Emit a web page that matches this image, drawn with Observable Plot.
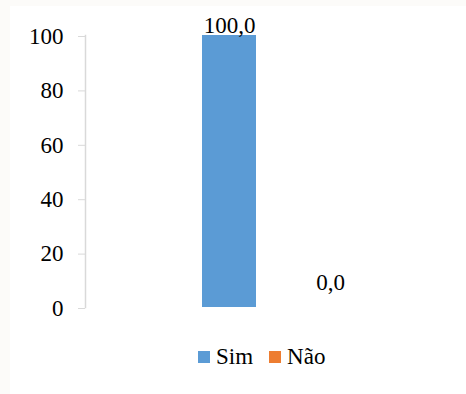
<!DOCTYPE html>
<html>
<head>
<meta charset="utf-8">
<script src="https://cdn.jsdelivr.net/npm/d3@7"></script>
<script src="https://cdn.jsdelivr.net/npm/@observablehq/plot@0.6"></script>
<style>
  html, body { margin: 0; padding: 0; background: #fcfbf9; width: 466px; height: 394px; overflow: hidden; }
  #chart { position: absolute; left: 10px; top: 6px; width: 456px; height: 388px; background: #ffffff; }
  .legend { position: absolute; left: 188px; top: 338px; display: flex; align-items: center;
            font-family: "Liberation Serif", Tinos, "Times New Roman", Times, serif; font-size: 23px; color: #000; }
  .legend .sw { width: 12px; height: 12px; display: inline-block; margin-right: 6px; }
  .legend .item { display: flex; align-items: center; margin-right: 16px; }
  #chart svg, #chart svg text { font-family: "Liberation Serif", Tinos, "Times New Roman", Times, serif !important; }
</style>
</head>
<body>
<div id="chart"></div>
<script>
// Respostas (%)
const categories = ["Sim", "Não"];
const values = [100.0, 0.0];
const colors = ["#5b9bd5", "#ed7d31"];
const yTicks = [0, 20, 40, 60, 80, 100];

const data = categories.map((c, i) => ({category: c, value: values[i]}));
const fmt = v => v.toFixed(1).replace(".", ",");
const serif = "'Liberation Serif', Tinos, 'Times New Roman', Times, serif";

const chart = Plot.plot({
  width: 456,
  height: 330,
  marginLeft: 75,
  marginTop: 29,
  marginBottom: 29,
  marginRight: 20,
  style: {fontFamily: serif, fontSize: "23px", color: "#000", background: "white"},
  x: {domain: categories, range: [168.5, 370.5], paddingInner: 0.465, paddingOuter: 0.2325, axis: null},
  y: {domain: [0, 100], ticks: yTicks},
  color: {domain: categories, range: colors},
  marks: [
    Plot.frame({anchor: "left", stroke: "#d9d9d9", strokeWidth: 1.5}),
    Plot.axisY({ticks: yTicks, tickSize: 7, tickPadding: 15, stroke: "#d9d9d9", tickFormat: d => String(d), label: null, fontSize: 23, dy: 1}),
    Plot.barY(data, {x: "category", y: "value", fill: "category"}),
    Plot.text(data.filter(d => d.value > 0), {x: "category", y: "value", text: d => fmt(d.value), lineAnchor: "bottom", dy: -2.5, fontSize: 23, fill: "#000"}),
    Plot.text(data.filter(d => d.value === 0), {x: "category", y: "value", text: d => fmt(d.value), lineAnchor: "bottom", dy: -17.5, fontSize: 23, fill: "#000"})
  ]
});

const host = document.getElementById("chart");
host.appendChild(chart);

const legend = document.createElement("div");
legend.className = "legend";
categories.forEach((c, i) => {
  const item = document.createElement("span");
  item.className = "item";
  const sw = document.createElement("span");
  sw.className = "sw";
  sw.style.background = colors[i];
  const label = document.createElement("span");
  label.textContent = c;
  item.appendChild(sw);
  item.appendChild(label);
  legend.appendChild(item);
});
host.appendChild(legend);
</script>
</body>
</html>
